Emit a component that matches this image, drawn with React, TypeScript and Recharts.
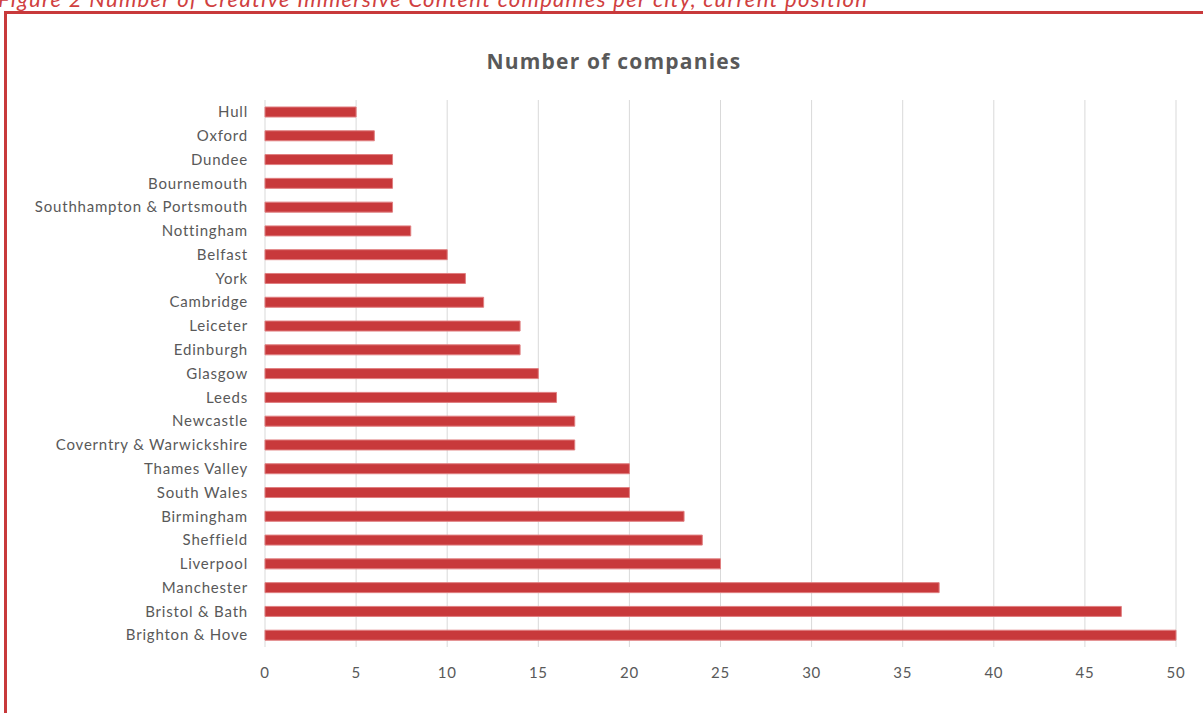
import React from 'react';
import { BarChart, Bar, XAxis, YAxis, CartesianGrid } from 'recharts';

const cities = [
  'Hull', 'Oxford', 'Dundee', 'Bournemouth', 'Southhampton & Portsmouth', 'Nottingham', 'Belfast', 'York ',
  'Cambridge', 'Leiceter', 'Edinburgh', 'Glasgow', 'Leeds', 'Newcastle', 'Coverntry & Warwickshire',
  'Thames Valley', 'South Wales', 'Birmingham', 'Sheffield', 'Liverpool', 'Manchester', 'Bristol & Bath', 'Brighton & Hove',
];
const companies = [5, 6, 7, 7, 7, 8, 10, 11, 12, 14, 14, 15, 16, 17, 17, 20, 20, 23, 24, 25, 37, 47, 50];
const xTicks = [0, 5, 10, 15, 20, 25, 30, 35, 40, 45, 50];

const title = 'Number of companies';
const caption = 'Figure 2 Number of Creative Immersive Content companies per city, current position';

const data = cities.map((c, i) => ({ city: c, value: companies[i] }));

const FONT = 'Lato, "Open Sans", sans-serif';
const RED = '#C8393B';
const GREY = '#595959';

export default function App() {
  return (
    <div style={{ position: 'absolute', left: 0, top: 0, width: 1203, height: 713, overflow: 'hidden', background: '#fff', fontFamily: FONT }}>
      <div style={{ position: 'absolute', left: -2, top: -15, whiteSpace: 'nowrap', fontStyle: 'italic', fontSize: 22, letterSpacing: 1.3, color: '#D04040', fontFamily: FONT }}>
        {caption}
      </div>
      <div style={{ position: 'absolute', left: 4, top: 11, width: 1220, height: 740, border: `3px solid ${RED}`, boxSizing: 'border-box' }} />
      <div style={{ position: 'absolute', left: 0, top: 47, width: 1228, textAlign: 'center', fontWeight: 'bold', fontSize: 21, letterSpacing: 1.2, color: GREY, fontFamily: '"Open Sans", sans-serif' }}>
        {title}
      </div>
      <div style={{ position: 'absolute', left: 0, top: 0 }}>
        <BarChart
          width={1203}
          height={713}
          data={data}
          layout="vertical"
          margin={{ top: 100, right: 27, bottom: 36, left: 0 }}
          barCategoryGap={0}
        >
          <CartesianGrid horizontal={false} stroke="#D9D9D9" strokeWidth={1} />
          <XAxis
            type="number"
            domain={[0, 50]}
            ticks={xTicks}
            axisLine={false}
            tickLine={false}
            tickSize={0}
            tickMargin={20}
            height={30}
            tick={{ fill: GREY, fontSize: 15, fontFamily: FONT, letterSpacing: 0.7 }}
            interval={0}
          />
          <YAxis
            type="category"
            dataKey="city"
            width={265}
            axisLine={false}
            tickLine={false}
            tickSize={0}
            tickMargin={17}
            interval={0}
            tick={{ fill: GREY, fontSize: 15, fontFamily: FONT, letterSpacing: 0.8 }}
          />
          <Bar dataKey="value" fill={RED} stroke="#E07F80" strokeWidth={1} barSize={10} isAnimationActive={false} />
        </BarChart>
      </div>
    </div>
  );
}
